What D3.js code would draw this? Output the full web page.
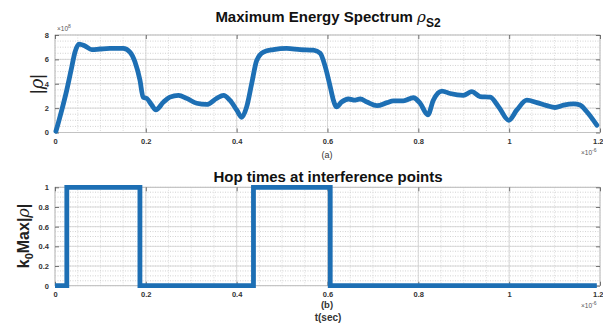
<!DOCTYPE html>
<html><head><meta charset="utf-8">
<script src="https://cdn.jsdelivr.net/npm/d3@7"></script>
<style>
html,body{margin:0;padding:0;background:#fff;}
svg{display:block;font-family:Arial,"Liberation Sans",sans-serif;}
</style></head>
<body><svg id="chart" width="603" height="325"></svg>
<script>
// ---- data (time in units of 1e-6 s) ----
const specTime = [0.002,0.007,0.015,0.026,0.037,0.044,0.053,0.066,0.081,0.099,0.121,0.150,0.165,0.176,0.187,0.194,0.202,0.213,0.222,0.239,0.253,0.272,0.290,0.312,0.334,0.356,0.371,0.385,0.400,0.411,0.422,0.433,0.444,0.459,0.481,0.510,0.540,0.569,0.584,0.595,0.606,0.613,0.620,0.631,0.646,0.661,0.672,0.687,0.709,0.731,0.745,0.767,0.789,0.804,0.821,0.833,0.852,0.870,0.899,0.918,0.936,0.958,0.977,0.999,1.017,1.039,1.061,1.083,1.101,1.120,1.142,1.156,1.171,1.193];
const specValue = [0.1,0.75,1.85,3.5,5.4,6.6,7.25,7.1,6.8,6.85,6.9,6.9,6.6,5.8,4.3,2.9,2.8,2.25,1.85,2.5,2.9,3.05,2.8,2.4,2.3,2.8,3.05,2.65,1.85,1.25,2.1,4.0,5.9,6.6,6.8,6.9,6.8,6.75,6.5,5.4,3.75,2.65,2.1,2.5,2.75,2.65,2.75,2.5,2.2,2.45,2.6,2.6,2.85,2.4,1.45,2.65,3.4,3.2,3.05,3.35,2.95,2.9,2.1,1.0,1.85,2.65,2.45,2.2,2.05,2.25,2.35,2.25,1.7,0.6];
const hopTime = [0, 0.026, 0.187, 0.437, 0.606, 1.193];
const hopValue = [0, 1, 0, 1, 0, 0];
const xTicks = [0, 0.2, 0.4, 0.6, 0.8, 1, 1.2];
const yTicksTop = [0, 2, 4, 6, 8];
const yTicksBottom = [0, 0.2, 0.4, 0.6, 0.8, 1];
const titleTop = "Maximum Energy Spectrum ";
const titleBottom = "Hop times at interference points";

const svg = d3.select("#chart");
const blue = "#1d6fb4";
const left = 55, right = 600;

function panel(cfg) {
  const x = d3.scaleLinear().domain([0, 1.2]).range([left, right]);
  const y = d3.scaleLinear().domain(cfg.ydom).range([cfg.bottom, cfg.top]);
  const g = svg.append("g");
  // minor grid
  const xMinor = d3.range(0, 1.2001, 0.05);
  const yMinor = d3.range(cfg.ydom[0], cfg.ydom[1] + 1e-9, cfg.yminor);
  g.selectAll(".xm").data(xMinor).enter().append("line")
    .attr("x1", d => x(d)).attr("x2", d => x(d)).attr("y1", cfg.top).attr("y2", cfg.bottom)
    .attr("stroke", "#d4d4d4").attr("stroke-width", 0.8).attr("stroke-dasharray", "1,1.5");
  g.selectAll(".ym").data(yMinor).enter().append("line")
    .attr("x1", left).attr("x2", right).attr("y1", d => y(d)).attr("y2", d => y(d))
    .attr("stroke", "#c8c8c8").attr("stroke-width", 0.8).attr("stroke-dasharray", "1,1.5");
  // major grid
  g.selectAll(".xM").data(xTicks).enter().append("line")
    .attr("x1", d => x(d)).attr("x2", d => x(d)).attr("y1", cfg.top).attr("y2", cfg.bottom)
    .attr("stroke", "#d0d0d0").attr("stroke-width", 0.8);
  g.selectAll(".yM").data(cfg.yticks).enter().append("line")
    .attr("x1", left).attr("x2", right).attr("y1", d => y(d)).attr("y2", d => y(d))
    .attr("stroke", "#d0d0d0").attr("stroke-width", 0.8);
  // frame
  g.append("rect").attr("x", left).attr("y", cfg.top).attr("width", right - left).attr("height", cfg.bottom - cfg.top)
    .attr("fill", "none").attr("stroke", "#bdbdbd").attr("stroke-width", 0.8);
  // axes
  g.append("g").attr("transform", `translate(0,${cfg.bottom})`)
    .call(d3.axisBottom(x).tickValues(xTicks).tickFormat(d3.format("~g")).tickSize(-4).tickPadding(6));
  g.append("g").attr("transform", `translate(${left},0)`)
    .call(d3.axisLeft(y).tickValues(cfg.yticks).tickFormat(d3.format("~g")).tickSize(-4).tickPadding(6));
  g.append("g").attr("transform", `translate(0,${cfg.top})`)
    .call(d3.axisTop(x).tickValues(xTicks).tickFormat("").tickSize(-4));
  g.append("g").attr("transform", `translate(${right},0)`)
    .call(d3.axisRight(y).tickValues(cfg.yticks).tickFormat("").tickSize(-4));
  g.selectAll(".domain").remove();
  g.selectAll(".tick line").attr("stroke", "#555").attr("stroke-width", 0.8);
  g.selectAll(".tick text").attr("fill", "#333").attr("font-size", 7.5).attr("font-weight", "bold")
    .attr("font-family", "Arial, Liberation Sans, sans-serif");
  // keep last x label inside the picture
  g.selectAll(".tick text").filter(d => d === 1.2).attr("text-anchor", "end").attr("dx", 3);
  // exponent note
  const ex = g.append("text").attr("x", 581).attr("y", cfg.bottom + 22).attr("font-size", 6.5).attr("fill", "#555");
  ex.append("tspan").text("\u00d710");
  ex.append("tspan").attr("dy", -3).attr("font-size", 5).text("-6");
  return {x, y, g};
}

// top panel
const p1 = panel({top: 35, bottom: 132.5, ydom: [0, 8], yticks: yTicksTop, yminor: 0.5});
const line1 = d3.line().x((d, i) => p1.x(specTime[i])).y((d, i) => p1.y(specValue[i])).curve(d3.curveMonotoneX);
p1.g.append("path").datum(specValue).attr("d", line1).attr("fill", "none")
  .attr("stroke", blue).attr("stroke-width", 4.8).attr("stroke-linejoin", "round").attr("stroke-linecap", "round");
const e8 = svg.append("text").attr("x", 57).attr("y", 31).attr("font-size", 6.5).attr("fill", "#555");
e8.append("tspan").text("\u00d710");
e8.append("tspan").attr("dy", -3).attr("font-size", 5).text("8");

// bottom panel
const p2 = panel({top: 187.3, bottom: 285.7, ydom: [0, 1], yticks: yTicksBottom, yminor: 0.05});
const line2 = d3.line().x((d, i) => p2.x(hopTime[i])).y((d, i) => p2.y(hopValue[i])).curve(d3.curveStepAfter);
p2.g.append("path").datum(hopValue).attr("d", line2).attr("fill", "none")
  .attr("stroke", blue).attr("stroke-width", 4.8).attr("stroke-linejoin", "miter").attr("stroke-linecap", "butt");

// titles
const t1 = svg.append("text").attr("x", 328).attr("y", 22).attr("text-anchor", "middle")
  .attr("font-size", 15).attr("font-weight", "bold").attr("fill", "#111");
t1.append("tspan").text(titleTop);
t1.append("tspan").attr("font-style", "italic").attr("font-weight", "normal").attr("font-family", "DejaVu Serif, serif").attr("font-size", 15).text("\u03c1");
t1.append("tspan").attr("dy", 5).attr("font-size", 12).text("S2");

svg.append("text").attr("x", 328).attr("y", 182).attr("text-anchor", "middle")
  .attr("font-size", 15).attr("font-weight", "bold").attr("fill", "#111").text(titleBottom);

// y labels
const yl1 = svg.append("text").attr("transform", "translate(43,84) rotate(-90)").attr("text-anchor", "middle")
  .attr("font-size", 18).attr("fill", "#222");
yl1.append("tspan").text("|");
yl1.append("tspan").attr("font-style", "italic").attr("font-family", "DejaVu Serif, serif").text("\u03c1");
yl1.append("tspan").text("|");

const yl2 = svg.append("text").attr("transform", "translate(29,236) rotate(-90)").attr("text-anchor", "middle")
  .attr("font-size", 16).attr("font-weight", "bold").attr("fill", "#222");
yl2.append("tspan").text("k");
yl2.append("tspan").attr("dy", 4).attr("font-size", 11).text("0");
yl2.append("tspan").attr("dy", -4).text("Max|");
yl2.append("tspan").attr("font-style", "italic").attr("font-weight", "normal").attr("font-family", "DejaVu Serif, serif").text("\u03c1");
yl2.append("tspan").text("|");

// sub captions
svg.append("text").attr("x", 327).attr("y", 158).attr("text-anchor", "middle").attr("font-size", 9).attr("fill", "#333").text("(a)");
svg.append("text").attr("x", 327).attr("y", 308).attr("text-anchor", "middle").attr("font-size", 9.5).attr("font-weight", "bold").attr("fill", "#333").text("(b)");
svg.append("text").attr("x", 328).attr("y", 321).attr("text-anchor", "middle").attr("font-size", 10).attr("font-weight", "bold").attr("fill", "#333").text("t(sec)");
</script></body></html>
